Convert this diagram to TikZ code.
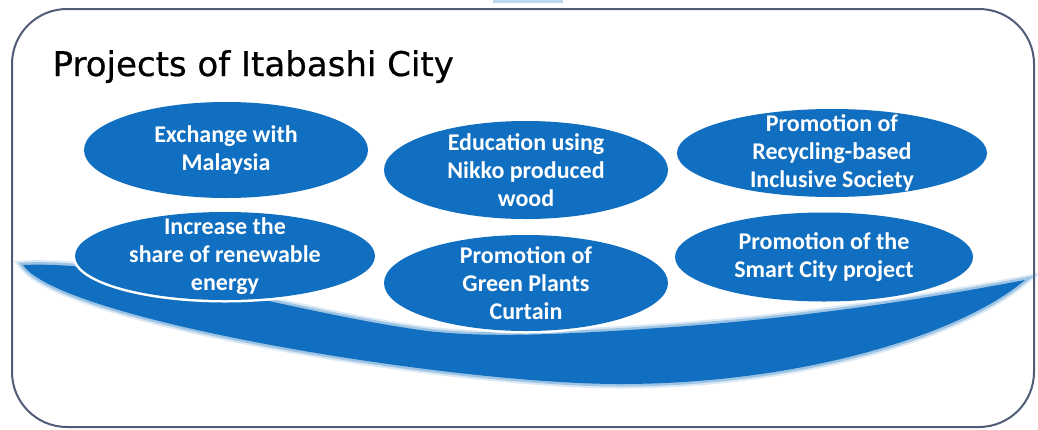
\documentclass[tikz,border=0pt]{standalone}
\usepackage{fontspec}
\setmainfont{Carlito}
\newfontfamily\titlefont{DejaVu Sans}[FakeBold=0.6]
\usetikzlibrary{shapes.geometric}
\definecolor{cityblue}{RGB}{16,111,192}
\definecolor{framegray}{RGB}{80,92,120}
\definecolor{tabblue}{RGB}{190,216,240}

\begin{document}
\begin{tikzpicture}[x=1pt,y=-1pt,semithick]
  \tikzstyle{project}=[ellipse,fill=cityblue,inner sep=0pt,
                       preaction={draw=white,line width=5pt}]
  \tikzstyle{projtext}=[text=white,align=center,
                        font=\fontsize{24}{28}\selectfont\bfseries]
  \tikzstyle{soft}=[preaction={draw=cityblue,opacity=0.15,line width=9pt},
                    preaction={draw=cityblue,opacity=0.3,line width=5pt}]

  \useasboundingbox (0,0) rectangle (1038,429);
  \fill[tabblue] (493,0) rectangle (563,3);
  \draw[framegray,line width=2pt,fill=white,rounded corners=55pt]
    (12,9) rectangle (1034,427);

  \node[anchor=base west,font=\titlefont\fontsize{34}{40}\selectfont] (title)
    at (49,76) {Projects of Itabashi City};

  % the blue swoosh behind the projects
  \fill[cityblue,soft]
    (23,265) .. controls (130,260) and (280,310) .. (420,330)
    .. controls (490,340) and (600,332) .. (673,327)
    .. controls (800,318) and (920,300) .. (1025,280)
    .. controls (960,335) and (800,384) .. (620,384)
    .. controls (450,384) and (60,320) .. (23,265) -- cycle;

  \node[project,minimum width=284,minimum height=96] (exch)  at (226,150) {};
  \node[project,minimum width=284,minimum height=98] (edu)   at (526,170) {};
  \node[project,minimum width=310,minimum height=88] (recyc) at (832,153) {};
  \node[project,minimum width=300,minimum height=88] (renew) at (225,256) {};
  \node[project,minimum width=284,minimum height=96] (green) at (526,283) {};
  \node[project,minimum width=298,minimum height=89] (smart) at (824,257) {};

  \node[projtext] (exchT)  at (exch)  {Exchange with\\Malaysia};
  \node[projtext] (eduT)   at (edu)   {Education using\\Nikko produced\\wood};
  \node[projtext] (recycT) at (recyc) {Promotion of\\Recycling-based\\Inclusive Society};
  \node[projtext] (renewT) at (renew) {Increase the\\share of renewable\\energy};
  \node[projtext] (greenT) at (green) {Promotion of\\Green Plants\\Curtain};
  \node[projtext] (smartT) at (smart) {Promotion of the\\Smart City project};
\end{tikzpicture}
\end{document}
